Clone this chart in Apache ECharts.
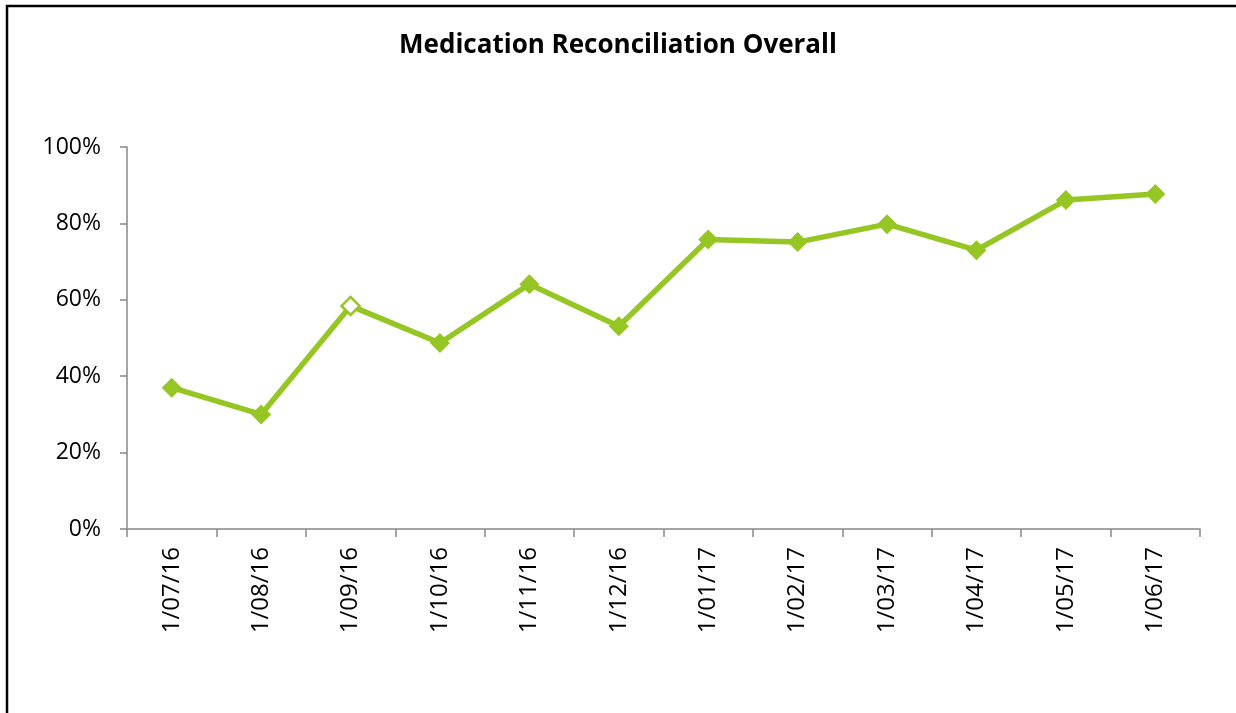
<!DOCTYPE html>
<html>
<head>
<meta charset="utf-8">
<script src="https://cdn.jsdelivr.net/npm/echarts@6/dist/echarts.min.js"></script>
<style>
html,body{margin:0;padding:0;background:#fff;}
#chart{width:1236px;height:713px;}
</style>
</head>
<body>
<div id="chart"></div>
<script>
const titleText = 'Medication Reconciliation Overall';
const categories = ['1/07/16','1/08/16','1/09/16','1/10/16','1/11/16','1/12/16','1/01/17','1/02/17','1/03/17','1/04/17','1/05/17','1/06/17'];
const values = [0.37, 0.30, 0.584, 0.487, 0.641, 0.531, 0.758, 0.751, 0.798, 0.730, 0.861, 0.877];
const hollowIndex = [2];
const yTicks = [0, 0.2, 0.4, 0.6, 0.8, 1.0];

const GREEN = '#95C623';
const FONT = 'Open Sans';

const chart = echarts.init(document.getElementById('chart'), null, {renderer:'canvas'});
const seriesData = values.map((v, i) => hollowIndex.includes(i)
  ? {value: v, symbolSize: 18, itemStyle: {color: '#fff', borderColor: GREEN, borderWidth: 2.5}}
  : {value: v});

chart.setOption({
  animation: false,
  backgroundColor: '#fff',
  graphic: [{
    type: 'rect', z: 100, silent: true,
    shape: {x: 7, y: 6, width: 1400, height: 900},
    style: {fill: 'none', stroke: '#000', lineWidth: 2.5}
  }],
  title: {
    text: titleText, left: 'center', top: 28,
    textStyle: {fontFamily: FONT, fontWeight: 'bold', fontSize: 26, color: '#000'}
  },
  grid: {left: 127, right: 36, top: 147, bottom: 184, containLabel: false},
  xAxis: {
    type: 'category', data: categories, boundaryGap: true,
    axisLine: {lineStyle: {color: '#888', width: 1.5}},
    axisTick: {show: true, length: 8, alignWithLabel: false, lineStyle: {color: '#888', width: 1.5}},
    axisLabel: {rotate: 90, margin: 18, fontFamily: FONT, fontSize: 24, color: '#000', interval: 0}
  },
  yAxis: {
    type: 'value', min: 0, max: 1, interval: 0.2,
    axisLine: {show: true, lineStyle: {color: '#888', width: 1.5}},
    axisTick: {show: true, length: 7, lineStyle: {color: '#888', width: 1.5}},
    splitLine: {show: false},
    axisLabel: {
      margin: 26, fontFamily: FONT, fontSize: 23, color: '#000',
      formatter: v => Math.round(v * 100) + '%'
    }
  },
  series: [{
    type: 'line', data: seriesData,
    symbol: 'diamond', symbolSize: 20,
    lineStyle: {color: GREEN, width: 5.5},
    itemStyle: {color: GREEN},
    z: 3
  }]
});
</script>
</body>
</html>
